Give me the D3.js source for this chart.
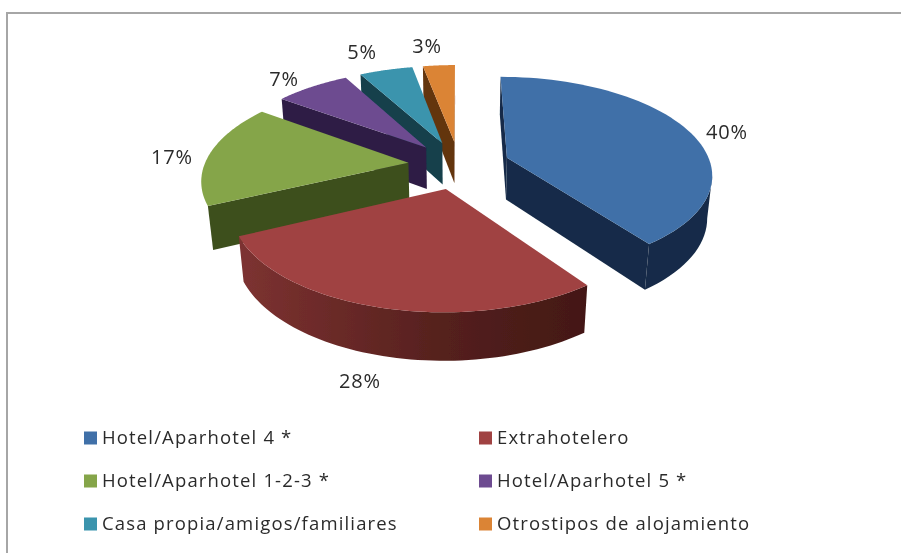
<!DOCTYPE html>
<html>
<head>
<meta charset="utf-8">
<script src="https://cdn.jsdelivr.net/npm/d3@7"></script>
<style>
  html, body { margin: 0; background: #fff; }
  svg { display: block; }
  text { font-family: "Open Sans", sans-serif; fill: #2b2b2b; }
</style>
</head>
<body>
<script>
var categories = ["Hotel/Aparhotel 4 *", "Extrahotelero", "Hotel/Aparhotel 1-2-3 *",
                  "Hotel/Aparhotel 5 *", "Casa propia/amigos/familiares", "Otrostipos de alojamiento"];
var values = [40, 28, 17, 7, 5, 3];
var colors = ["#4070a8", "#a04242", "#85a548", "#6d4c90", "#3b94ad", "#db8436"];
var wallLeft = ["#172c48", "#7d3231", "#3d4f1d", "#2f1f45", "#123f4c", "#643510"];
var wallRight = ["#172c48", "#431815", "#3d4f1d", "#2f1f45", "#123f4c", "#643510"];
var labelX = [727, 360, 172, 284, 362, 427],
    labelY = [132, 381, 157, 79, 52, 46];

var width = 901, height = 553;

var cx = 459, cy = 165,
    rx = 204, ry = 95.6,
    depth = 43,
    persp = 0.156,
    explodeDist = 0.25;

// arc wall shows between these angles only (radians clockwise from top)
var wallFrom = 100 * Math.PI / 180,
    wallTo = 245 * Math.PI / 180;

var svg = d3.select("body").append("svg")
    .attr("width", width)
    .attr("height", height);

var defs = svg.append("defs");

// reference is a soft upscaled bitmap
defs.append("filter")
    .attr("id", "soft")
    .attr("filterUnits", "userSpaceOnUse")
    .attr("x", 0).attr("y", 0)
    .attr("width", width).attr("height", height)
  .append("feGaussianBlur")
    .attr("stdDeviation", 0.4);

var root = svg.append("g").attr("filter", "url(#soft)");

// chart frame, only top and left show in the crop
root.append("path")
    .attr("d", "M7,553V13H901")
    .attr("fill", "none")
    .attr("stroke", "#a6a6a6")
    .attr("stroke-width", 2);

var slices = d3.pie().sort(null)(values);

// u,v are plane coords (radius 1 pie), z is 0 on top and 1 at the base
function project(u, v, z) {
  var s = 1 / (1 + persp * v + 0.02 * z);
  return [cx + rx * u * s, cy - ry * v * s + depth * z * s];
}

function pointOn(d, a, r, z) {
  var m = (d.startAngle + d.endAngle) / 2;
  return project(explodeDist * Math.sin(m) + r * Math.sin(a),
                 explodeDist * Math.cos(m) + r * Math.cos(a), z);
}

var line = d3.line();

// back to front, so red goes over the green wall
var order = [5, 4, 3, 2, 1, 0];

order.forEach(function(i) {
  var d = slices[i],
      g = root.append("g").attr("class", "slice");

  var grad = defs.append("linearGradient").attr("id", "wall" + i);
  grad.append("stop").attr("offset", "0%").attr("stop-color", wallLeft[i]);
  grad.append("stop").attr("offset", "60%").attr("stop-color", d3.interpolateRgb(wallLeft[i], wallRight[i])(0.7));
  grad.append("stop").attr("offset", "100%").attr("stop-color", wallRight[i]);

  var angles = d3.range(0, 61).map(function(k) {
    return d.startAngle + (d.endAngle - d.startAngle) * k / 60;
  });

  // radial walls
  [[d.startAngle, -1], [d.endAngle, 1]].forEach(function(e) {
    var poly = [pointOn(d, 0, 0, 0), pointOn(d, e[0], 1, 0), pointOn(d, e[0], 1, 1), pointOn(d, 0, 0, 1)];
    if (d3.polygonArea(poly) * e[1] < 0) {
      g.append("path").attr("d", line(poly) + "Z").attr("fill", wallRight[i]);
    }
  });

  // outer wall, only the part that faces the viewer
  var front = angles.filter(function(a) { return a >= wallFrom && a <= wallTo; });
  if (front.length > 1) {
    var poly = front.map(function(a) { return pointOn(d, a, 1, 0); })
        .concat(front.slice().reverse().map(function(a) { return pointOn(d, a, 1, 1); }));
    g.append("path").attr("d", line(poly) + "Z").attr("fill", "url(#wall" + i + ")");
  }

  // top
  var top = [pointOn(d, 0, 0, 0)].concat(angles.map(function(a) { return pointOn(d, a, 1, 0); }));
  g.append("path").attr("d", line(top) + "Z").attr("fill", colors[i]);
});

// percent labels
root.selectAll("text.pct")
    .data(values)
  .enter().append("text")
    .attr("class", "pct")
    .attr("x", function(d, i) { return labelX[i]; })
    .attr("y", function(d, i) { return labelY[i]; })
    .attr("dy", "0.35em")
    .attr("text-anchor", "middle")
    .attr("font-size", 20)
    .attr("letter-spacing", 0.8)
    .text(function(d) { return d + "%"; });

// legend, two columns
var legendX = d3.scaleOrdinal().domain([0, 1]).range([84, 479]),
    legendY = d3.scaleOrdinal().domain([0, 1, 2]).range([438, 481, 524]);

var item = root.selectAll("g.legend")
    .data(categories)
  .enter().append("g")
    .attr("class", "legend")
    .attr("transform", function(d, i) {
      return "translate(" + legendX(i % 2) + "," + legendY(Math.floor(i / 2)) + ")";
    });

item.append("rect")
    .attr("y", -6.5)
    .attr("width", 13)
    .attr("height", 13)
    .attr("fill", function(d, i) { return colors[i]; });

item.append("text")
    .attr("x", 18)
    .attr("dy", "0.35em")
    .attr("font-size", 18.5)
    .attr("letter-spacing", 1.15)
    .text(function(d) { return d; });
</script>
</body>
</html>
